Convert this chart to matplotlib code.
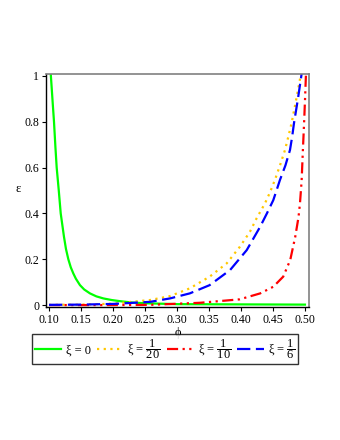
"""plot.py — epsilon(phi) para quatro valores de xi (estilo Maple)."""
import matplotlib
matplotlib.use("Agg")
import matplotlib.pyplot as plt

plt.rcParams["font.family"] = ["Liberation Serif", "DejaVu Serif"]
plt.rcParams["mathtext.fontset"] = "custom"
plt.rcParams["mathtext.rm"] = "Liberation Serif"

# ===== Dados =====
phi_xi0 = [0.1027, 0.1058, 0.1078, 0.110, 0.112, 0.1152, 0.1183, 0.1234, 0.1265,
           0.1302, 0.134, 0.138, 0.142, 0.1484, 0.155, 0.164, 0.174, 0.185,
           0.198, 0.211, 0.23, 0.25, 0.30, 0.40, 0.50]
eps_xi0 = [1.01, 0.881, 0.80, 0.69, 0.60, 0.502, 0.40, 0.298, 0.245,
           0.20, 0.165, 0.138, 0.115, 0.087, 0.068, 0.051, 0.038, 0.029,
           0.022, 0.017, 0.011, 0.008, 0.004, 0.003, 0.002]

phi_xi20 = [0.10, 0.15, 0.20, 0.2578, 0.289, 0.320, 0.351, 0.3777, 0.3984, 0.414,
            0.4245, 0.4375, 0.445, 0.453, 0.461, 0.4688, 0.474, 0.479, 0.4865,
            0.4938]
eps_xi20 = [0.001, 0.002, 0.006, 0.022, 0.039, 0.073, 0.124, 0.182, 0.255, 0.32,
            0.379, 0.444, 0.49, 0.546, 0.61, 0.677, 0.735, 0.793, 0.90, 1.01]

phi_xi10 = [0.10, 0.20, 0.258, 0.336, 0.398, 0.430, 0.4505, 0.466, 0.477, 0.4848,
            0.4885, 0.490, 0.4922, 0.4948, 0.4965, 0.4984, 0.5000, 0.5016]
eps_xi10 = [0.0, 0.0, 0.001, 0.010, 0.025, 0.051, 0.080, 0.124, 0.197, 0.298,
            0.36, 0.386, 0.444, 0.543, 0.66, 0.78, 0.89, 1.01]

phi_xi6 = [0.10, 0.15, 0.20, 0.2578, 0.289, 0.320, 0.351, 0.383, 0.409, 0.430,
           0.4405, 0.4505, 0.4555, 0.4609, 0.4695, 0.4766, 0.48, 0.4828, 0.489,
           0.4948]
eps_xi6 = [0.001, 0.002, 0.005, 0.014, 0.029, 0.051, 0.087, 0.153, 0.24, 0.342,
           0.40, 0.458, 0.50, 0.546, 0.61, 0.677, 0.735, 0.793, 0.90, 1.01]

x_ticks = [0.10, 0.15, 0.20, 0.25, 0.30, 0.35, 0.40, 0.45, 0.50]
y_ticks = [0, 0.2, 0.4, 0.6, 0.8, 1]
y_ticklabels = ["0", "0.2", "0.4", "0.6", "0.8", "1"]

fig = plt.figure(figsize=(3.4, 4.4), dpi=100)
ax = fig.add_axes([0.1353, 0.303, 0.7735, 0.529])

lw = 1.6
l1, = ax.plot(phi_xi0, eps_xi0, color="#00ff00", lw=lw, ls="-")
l2, = ax.plot(phi_xi20, eps_xi20, color="#ffc800", lw=lw, ls=(0, (1, 2)))
l3, = ax.plot(phi_xi10, eps_xi10, color="#ff0000", lw=lw, ls=(0, (5, 2, 1, 2, 1, 2)))
l4, = ax.plot(phi_xi6, eps_xi6, color="#0000ff", lw=lw, ls=(0, (6, 2.5)))

ax.set_xlim(0.0953, 0.5063)
ax.set_ylim(-0.007, 1.009)
ax.set_xticks(x_ticks)
ax.set_xticklabels([f"{t:.2f}" for t in x_ticks])
ax.set_yticks(y_ticks)
ax.set_yticklabels(y_ticklabels)
ax.tick_params(labelsize=8.5, length=3, width=0.8, pad=2)

for s in ("left", "bottom"):
    ax.spines[s].set_color("black")
    ax.spines[s].set_linewidth(1.0)
for s in ("top", "right"):
    ax.spines[s].set_color("#808080")
    ax.spines[s].set_linewidth(1.2)

ax.set_xlabel("ϕ", fontsize=9, labelpad=1)
ax.set_ylabel("ε", fontsize=9, rotation=0)
ax.yaxis.set_label_coords(-0.105, 0.48)

labels = ["ξ = 0", r"ξ = $\dfrac{1}{20}$", r"ξ = $\dfrac{1}{10}$",
          r"ξ = $\dfrac{1}{6}$"]
leg = fig.legend([l1, l2, l3, l4], labels, ncol=4, loc="center",
                 bbox_to_anchor=(0.4853, 0.2068), fontsize=9, frameon=True,
                 fancybox=False, handlelength=2.1, handletextpad=0.35,
                 columnspacing=0.5, borderpad=0.25, borderaxespad=0)
leg.get_frame().set_edgecolor("black")
leg.get_frame().set_linewidth(1.0)

fig.savefig("out.png", dpi=100)
